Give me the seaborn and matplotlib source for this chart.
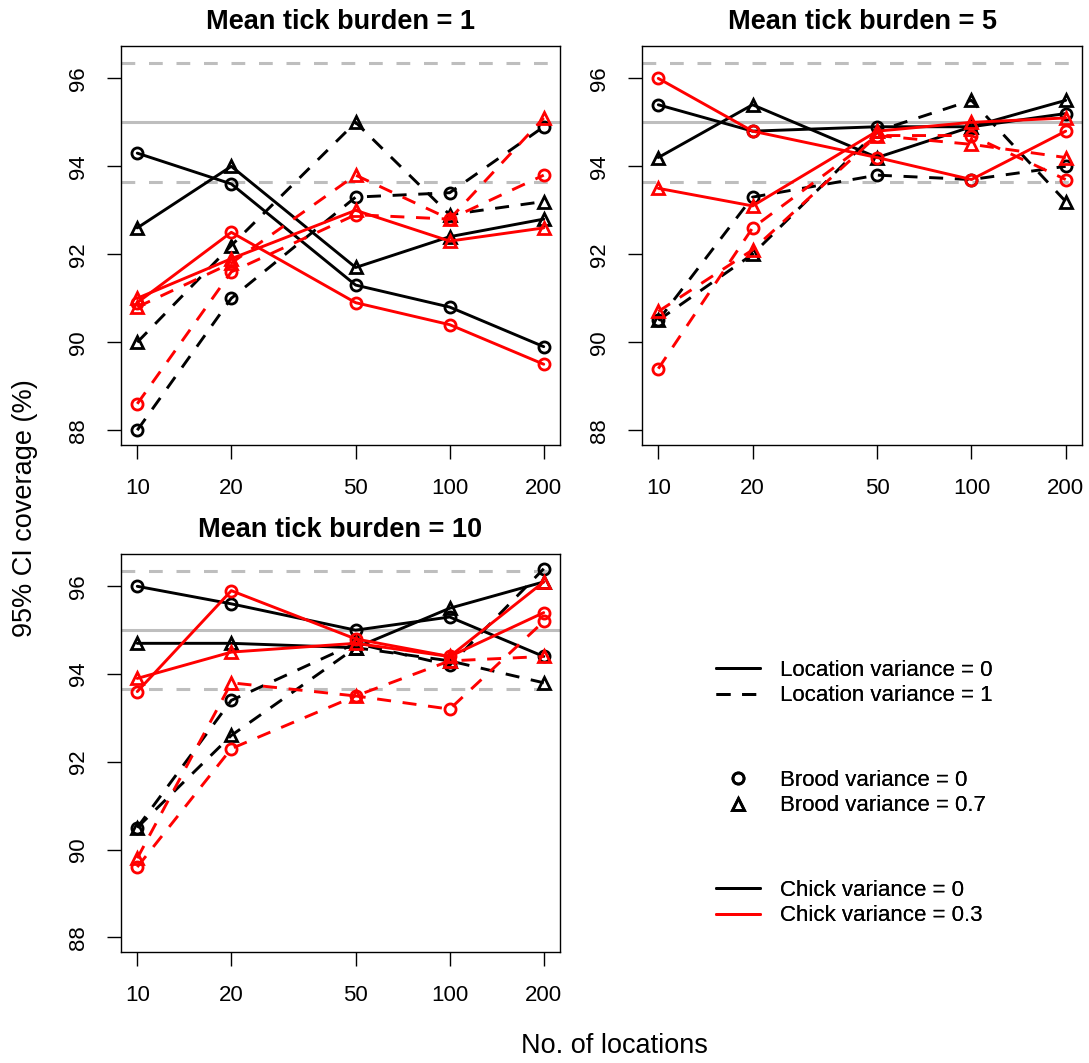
import matplotlib
matplotlib.use("Agg")
import matplotlib.pyplot as plt
from matplotlib.lines import Line2D
import seaborn as sns
import numpy as np

# x values (number of locations)
locations = [10, 20, 50, 100, 200]

# series order: (location var, brood var, chick var)
series_keys = [
    (0, 0, 0), (0, 0.7, 0), (1, 0, 0), (1, 0.7, 0),
    (0, 0, 0.3), (0, 0.7, 0.3), (1, 0, 0.3), (1, 0.7, 0.3),
]

# 95% CI coverage (%) per series, one block per mean tick burden
burden_1 = [
    [94.3, 93.6, 91.3, 90.8, 89.9],
    [92.6, 94.0, 91.7, 92.4, 92.8],
    [88.0, 91.0, 93.3, 93.4, 94.9],
    [90.0, 92.2, 95.0, 92.9, 93.2],
    [90.9, 92.5, 90.9, 90.4, 89.5],
    [91.0, 91.9, 93.0, 92.3, 92.6],
    [88.6, 91.6, 92.9, 92.8, 93.8],
    [90.8, 91.8, 93.8, 92.8, 95.1],
]
burden_5 = [
    [95.4, 94.8, 94.9, 94.9, 95.2],
    [94.2, 95.4, 94.2, 94.9, 95.5],
    [90.5, 93.3, 93.8, 93.7, 94.0],
    [90.5, 92.0, 94.8, 95.5, 93.2],
    [96.0, 94.8, 94.2, 93.7, 94.8],
    [93.5, 93.1, 94.8, 95.0, 95.1],
    [89.4, 92.6, 94.7, 94.7, 93.7],
    [90.7, 92.1, 94.7, 94.5, 94.2],
]
burden_10 = [
    [96.0, 95.6, 95.0, 95.3, 94.4],
    [94.7, 94.7, 94.6, 95.5, 96.1],
    [90.5, 93.4, 94.7, 94.2, 96.4],
    [90.5, 92.6, 94.6, 94.3, 93.8],
    [93.6, 95.9, 94.8, 94.4, 95.4],
    [93.9, 94.5, 94.7, 94.4, 96.1],
    [89.6, 92.3, 93.5, 93.2, 95.2],
    [89.8, 93.8, 93.5, 94.3, 94.4],
]

panel_titles = ["Mean tick burden = 1", "Mean tick burden = 5", "Mean tick burden = 10"]
panel_data = [burden_1, burden_5, burden_10]

# nominal level and binomial MC interval
nominal = 95.0
mc_band = [93.65, 96.35]
yticks = [88, 90, 92, 94, 96]

chick_colors = {0: "black", 0.3: "red"}
brood_markers = {0: "o", 0.7: "^"}
loc_styles = {0: "-", 1: (0, (4.8, 4.0))}

sns.set_style("ticks")
plt.rcParams["font.family"] = ["Liberation Sans", "DejaVu Sans"]
for k in ("text.color", "axes.labelcolor", "xtick.color", "ytick.color", "axes.edgecolor"):
    plt.rcParams[k] = "black"

W, H = 1089, 1063
fig = plt.figure(figsize=(W / 100, H / 100), dpi=100)

# axes boxes in pixels: left, top, right, bottom
boxes = [(121, 46, 560, 445), (642, 46, 1082, 445), (121, 554, 560, 952)]

lx = np.log10(locations)
xpad = 0.04 * (lx.max() - lx.min())
xlim = (10 ** (lx.min() - xpad), 10 ** (lx.max() + xpad))
ylo, yhi = 88.0, 96.4
ypad = 0.04 * (yhi - ylo)

for (l, t, r, b), title, data in zip(boxes, panel_titles, panel_data):
    ax = fig.add_axes([l / W, 1 - b / H, (r - l) / W, (b - t) / H])
    ax.set_xscale("log")
    ax.axhline(nominal, color="#bebebe", lw=2.2, zorder=1)
    for v in mc_band:
        ax.axhline(v, color="#bebebe", lw=2.2, ls=(0, (4.5, 4.5)), zorder=1)
    for (loc_v, brood_v, chick_v), vals in zip(series_keys, data):
        col = chick_colors[chick_v]
        sns.lineplot(x=locations, y=vals, ax=ax, color=col,
                     linestyle=loc_styles[loc_v], linewidth=2.1,
                     marker=brood_markers[brood_v],
                     markersize=8.5 if brood_v else 8,
                     markerfacecolor="none", markeredgecolor=col,
                     markeredgewidth=2, zorder=3)
    ax.set_xlim(*xlim)
    ax.set_ylim(ylo - ypad, yhi + ypad)
    ax.set_xticks(locations)
    ax.set_xticklabels([str(v) for v in locations])
    ax.xaxis.set_minor_locator(matplotlib.ticker.NullLocator())
    ax.set_yticks(yticks)
    ax.set_yticklabels([str(v) for v in yticks], rotation=90, va="center")
    ax.tick_params(axis="both", labelsize=16, length=10, width=1, direction="out",
                   color="black", labelcolor="black")
    ax.tick_params(axis="x", pad=14)
    ax.tick_params(axis="y", pad=13)
    for s in ax.spines.values():
        s.set_visible(True)
        s.set_color("black")
        s.set_linewidth(1)
    ax.set_title(title, fontsize=19.5, fontweight="bold", pad=12)
    ax.set_xlabel("")
    ax.set_ylabel("")

fig.text(25 / W, 1 - 508 / H, "95% CI coverage (%)", rotation=90,
         ha="center", va="center", fontsize=19.5)
fig.text(614 / W, 1 - 1046 / H, "No. of locations", ha="center", va="center",
         fontsize=19.5)

# legends in the empty lower-right area
leg_kw = dict(frameon=False, fontsize=16, handlelength=2.0, handletextpad=0.9,
              labelspacing=0.2, borderaxespad=0, borderpad=0)
h1 = [Line2D([], [], color="black", lw=2.1, ls=loc_styles[k]) for k in (0, 1)]
l1 = ["Location variance = 0", "Location variance = 1"]
h2 = [Line2D([], [], color="black", ls="none", marker=brood_markers[k], ms=8,
             mfc="none", mec="black", mew=2) for k in (0, 0.7)]
l2 = ["Brood variance = 0", "Brood variance = 0.7"]
h3 = [Line2D([], [], color=chick_colors[k], lw=2.1) for k in (0, 0.3)]
l3 = ["Chick variance = 0", "Chick variance = 0.3"]

for hs, ls_, ytop in [(h1, l1, 660), (h2, l2, 770), (h3, l3, 880)]:
    leg = fig.legend(hs, ls_, loc="upper left",
                     bbox_to_anchor=(716 / W, 1 - ytop / H), **leg_kw)
    fig.add_artist(leg)

fig.savefig("out.png", dpi=100)
